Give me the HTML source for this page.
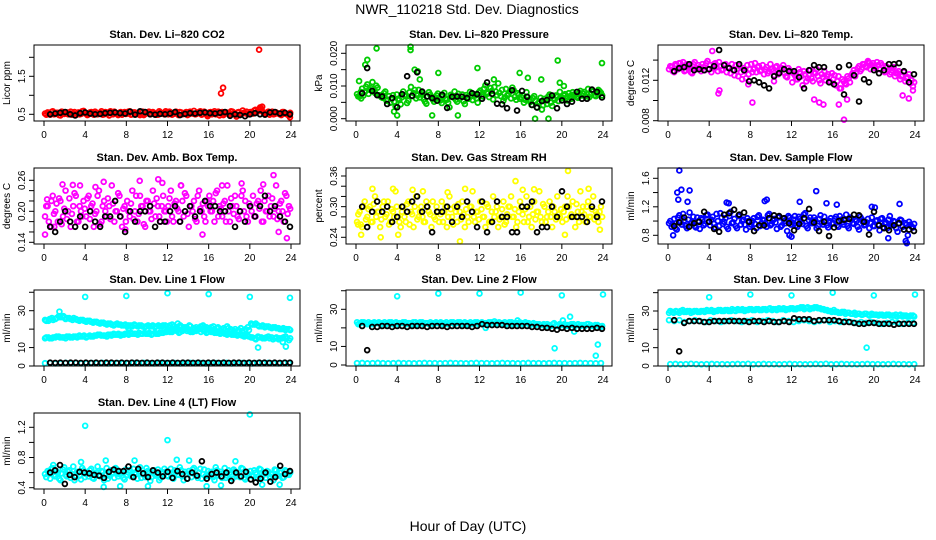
<!DOCTYPE html>
<html><head><meta charset="utf-8"><style>
body{margin:0;background:#fff}
svg{display:block;font-family:"Liberation Sans",Arial,sans-serif}
</style></head><body>
<svg id="chart" width="936" height="540" viewBox="0 0 936 540">
<text x="467" y="14" font-size="14" text-anchor="middle">NWR_110218  Std. Dev. Diagnostics</text>
<text x="468" y="531" font-size="14" text-anchor="middle">Hour of Day (UTC)</text>
</svg>
<script>
const xTicks=[0,4,8,12,16,20,24];
// Panel 1 CO2
const co2Color=[0.52,0.55,0.49,0.58,0.51,0.54,0.47,0.56,0.53,0.5,0.57,0.52,0.48,0.55,0.51,0.59,0.53,0.5,0.56,0.49,0.54,0.52,0.58,0.5,0.55,0.47,0.53,0.57,0.51,0.54,0.49,0.56,0.52,0.58,0.5,0.55,0.53,0.48,0.57,0.51,0.54,0.5,0.56,0.52,0.49,0.55,0.53,0.58,0.5,0.54,0.51,0.57,0.48,0.55,0.52,0.56,0.5,0.53,0.59,0.51,0.54,0.49,0.57,0.52,0.55,0.5,0.58,0.53,0.47,0.56,0.52,0.54,0.5,0.57,0.51,0.55,0.49,0.6,0.53,0.5,0.56,0.52,0.62,0.58,0.66,0.55,0.51,0.57,0.53,0.5,0.55,0.52,0.48,0.56,0.51,0.47];
const co2Color2=[0.49,0.53,0.56,0.5,0.54,0.48,0.57,0.51,0.55,0.53,0.49,0.56,0.52,0.5,0.58,0.53,0.48,0.55,0.51,0.57,0.5,0.54,0.49,0.56,0.52,0.58,0.5,0.54,0.48,0.56,0.53,0.51,0.57,0.49,0.55,0.52,0.5,0.56,0.48,0.54,0.57,0.51,0.53,0.49,0.58,0.52,0.5,0.55,0.57,0.49,0.53,0.51,0.56,0.5,0.54,0.48,0.57,0.52,0.5,0.55,0.58,0.51,0.53,0.49,0.56,0.54,0.5,0.57,0.52,0.48,0.55,0.51,0.58,0.53,0.49,0.56,0.52,0.54,0.57,0.5,0.53,0.6,0.56,0.63,0.59,0.52,0.55,0.49,0.57,0.51,0.53,0.5,0.56,0.52,0.49,0.54];
const co2Out=[[17.2,1.05],[17.4,1.2],[20.9,2.2],[21.0,0.68],[21.2,0.7],[15.9,0.45],[18.7,0.44],[23.9,0.42]];
const co2Black=[0.5,0.52,0.54,0.56,0.5,0.47,0.53,0.55,0.52,0.5,0.51,0.53,0.54,0.55,0.53,0.52,0.57,0.49,0.58,0.56,0.5,0.49,0.51,0.5,0.52,0.56,0.48,0.51,0.53,0.52,0.54,0.55,0.53,0.52,0.54,0.56,0.46,0.5,0.48,0.45,0.5,0.53,0.5,0.49,0.55,0.56,0.52,0.54,0.5];
// Panel 2 Pressure
const presColor=[.0075,.0068,.0092,.0081,.0105,.0088,.0112,.0079,.0095,.0071,.0064,.0083,.0058,.0049,.0072,.0038,.0061,.0044,.0083,.0069,.0055,.0097,.0078,.0062,.0088,.0074,.0059,.0046,.0081,.0067,.0052,.0071,.0064,.0048,.0079,.0058,.0035,.0069,.0083,.0052,.0061,.0074,.0045,.0066,.0082,.0057,.0071,.0049,.0086,.0068,.0102,.0077,.0094,.0059,.0083,.0108,.0069,.0055,.0091,.0076,.0062,.0087,.0058,.0073,.0066,.0049,.0081,.0058,.0042,.0069,.0035,.0052,.0028,.0061,.0045,.0074,.0039,.0058,.0067,.0082,.0063,.0075,.0056,.0069,.0081,.0072,.0064,.0085,.0077,.0068,.0091,.0074,.0083,.0069,.0088,.0079];
const presColor2=[.0068,.0082,.0071,.0098,.0076,.0093,.0084,.0101,.0072,.0066,.0078,.0055,.0069,.0061,.0052,.0074,.0057,.0066,.0072,.0048,.0081,.0069,.0088,.0071,.0065,.0079,.0052,.0068,.0074,.0059,.0063,.0077,.0056,.0071,.0062,.0049,.0073,.0065,.0058,.0076,.0068,.0053,.0072,.0061,.0069,.0075,.0062,.0081,.0074,.0092,.0081,.0066,.0085,.0097,.0072,.0079,.0088,.0064,.0071,.0083,.0095,.0067,.0078,.0061,.0072,.0058,.0066,.0051,.0063,.0055,.0047,.0064,.0041,.0056,.0068,.0049,.0062,.0071,.0054,.0066,.0071,.0064,.0078,.0061,.0074,.0067,.0079,.0071,.0082,.0075,.0066,.0087,.0072,.0078,.0084,.0071];
const presOut=[[0.3,.0115],[0.9,.0165],[1.1,.018],[2,.0215],[5.3,.022],[5.3,.021],[5.7,.015],[6,.0145],[8,.014],[11.8,.0155],[15.9,.014],[16.7,.0125],[18,.012],[19.6,.0178],[23.9,.017],[7.4,.001],[17.4,.0],[18.7,.0],[4,.001],[9.9,.001],[0.5,.0062],[3.7,.0022],[6.2,.0120],[13.4,.0120],[19.8,.0110],[20.2,.0100]];
const presBlack=[.0078,.0155,.0085,.0072,.0068,.0045,.0063,.0035,.0075,.013,.007,.0142,.0083,.0068,.0063,.0055,.0073,.0033,.0067,.0068,.0067,.0063,.0078,.0075,.0061,.0111,.0076,.0046,.0044,.0032,.0087,.0025,.0085,.0067,.0042,.0034,.0054,.0057,.0071,.0032,.0056,.0045,.0052,.0082,.0061,.0061,.0089,.0082,.0065];
// Panel 3 Li-820 Temp
const tempColor=[.0131,.0133,.0128,.0135,.0137,.0132,.0129,.0136,.0134,.0127,.0138,.0131,.0133,.0136,.0130,.0139,.0135,.0132,.0137,.0129,.0134,.0131,.0136,.0133,.0127,.0130,.0135,.0124,.0128,.0132,.0122,.0126,.0136,.0131,.0128,.0134,.0130,.0126,.0133,.0129,.0131,.0125,.0134,.0128,.0132,.0127,.0123,.0130,.0118,.0125,.0121,.0128,.0115,.0126,.0122,.0130,.0119,.0127,.0124,.0117,.0123,.0120,.0126,.0118,.0121,.0115,.0124,.0112,.0119,.0116,.0122,.0125,.0130,.0128,.0134,.0131,.0136,.0133,.0137,.0135,.0134,.0138,.0131,.0135,.0128,.0133,.0126,.0130,.0124,.0127,.0121,.0125,.0119,.0123,.0117,.0114];
const tempColor2=[.0134,.0129,.0136,.0131,.0133,.0138,.0130,.0134,.0128,.0136,.0132,.0135,.0129,.0133,.0137,.0131,.0128,.0136,.0133,.0138,.0130,.0135,.0128,.0132,.0136,.0125,.0131,.0134,.0121,.0129,.0135,.0131,.0128,.0137,.0133,.0129,.0135,.0131,.0127,.0136,.0129,.0133,.0126,.0131,.0135,.0124,.0132,.0128,.0127,.0121,.0131,.0124,.0129,.0119,.0125,.0122,.0128,.0131,.0120,.0126,.0129,.0124,.0119,.0127,.0125,.0119,.0112,.0121,.0117,.0124,.0118,.0127,.0124,.0132,.0129,.0136,.0134,.0139,.0131,.0137,.0132,.0135,.0137,.0129,.0134,.0130,.0128,.0133,.0127,.0129,.0124,.0128,.0122,.0126,.0120,.0118];
const tempOut=[[4.3,.0149],[4.9,.0107],[5.0,.0110],[7.8,.0116],[8.2,.0098],[10.3,.0119],[14.2,.0101],[14.7,.0098],[15.1,.0096],[16.6,.0096],[17.1,.0081],[17.4,.0101],[19.5,.0138],[22.8,.0105],[23.4,.0102],[23.8,.0110],[1.2,.0137]];
const tempBlack=[.0129,.0132,.0133,.0136,.0130,.0131,.0130,.0131,.0134,.0150,.0135,.0132,.0130,.0136,.0130,.0119,.0120,.0118,.0115,.0112,.0124,.0127,.0131,.0129,.0129,.0123,.0112,.0130,.0135,.0133,.0133,.0118,.0116,.0133,.0106,.0135,.0125,.0099,.0121,.0118,.0130,.0127,.0130,.0136,.0136,.0137,.0129,.0118,.0126];
// Panel 4 Amb Box Temp
const ambColor=[.19,.21,.17,.23,.20,.18,.22,.19,.24,.20,.17,.21,.23,.18,.20,.22,.19,.23,.21,.17,.20,.24,.18,.22,.19,.21,.25,.18,.20,.23,.17,.21,.22,.19,.24,.20,.18,.23,.21,.17,.22,.20,.24,.19,.21,.18,.23,.20,.21,.24,.18,.22,.20,.25,.19,.23,.17,.21,.22,.18,.24,.20,.19,.22,.23,.20,.18,.24,.21,.19,.22,.25,.18,.21,.23,.19,.20,.24,.22,.18,.21,.23,.19,.22,.24,.18,.20,.23,.21,.19,.25,.20,.22,.18,.23,.21];
const ambColor2=[.21,.18,.22,.195,.215,.225,.175,.205,.185,.225,.195,.235,.18,.21,.19,.205,.225,.185,.215,.195,.23,.175,.21,.2,.225,.185,.215,.2,.235,.19,.205,.18,.2,.215,.185,.23,.195,.21,.175,.22,.2,.185,.215,.225,.19,.21,.2,.18,.225,.19,.215,.205,.18,.22,.235,.195,.21,.2,.185,.23,.205,.215,.18,.21,.2,.22,.235,.19,.205,.215,.18,.2,.225,.195,.21,.185,.23,.2,.19,.215,.2,.19,.215,.205,.18,.22,.2,.19,.225,.205,.185,.215,.2,.235,.195,.205];
const ambOut=[[0.1,.155],[0.3,.223],[1.8,.252],[2.8,.251],[3.5,.25],[5,.247],[5.8,.257],[7.9,.165],[9.3,.259],[11.1,.262],[11.5,.255],[13.3,.25],[15.4,.155],[17.3,.25],[19.2,.254],[21.3,.252],[22.3,.27],[22.8,.16],[23.6,.148],[0.7,.17],[1,.17]];
const ambBlack=[.17,.16,.18,.20,.18,.17,.19,.17,.20,.18,.17,.19,.19,.22,.19,.16,.20,.18,.20,.20,.21,.17,.18,.18,.20,.21,.18,.20,.21,.19,.20,.22,.21,.21,.20,.20,.21,.17,.20,.18,.21,.19,.21,.23,.20,.21,.19,.18,.17];
// Panel 5 RH
const rhColor=[.27,.29,.26,.31,.28,.30,.27,.32,.29,.26,.30,.28,.31,.27,.29,.33,.28,.26,.30,.27,.31,.29,.26,.32,.28,.30,.27,.31,.29,.26,.28,.30,.27,.31,.29,.26,.32,.28,.30,.27,.29,.31,.26,.28,.30,.33,.27,.29,.31,.28,.26,.30,.27,.32,.29,.26,.28,.31,.27,.30,.32,.28,.26,.29,.30,.27,.32,.28,.26,.31,.29,.33,.27,.30,.28,.31,.26,.29,.32,.28,.27,.30,.32,.28,.31,.26,.29,.33,.30,.27,.31,.28,.32,.29,.27,.30];
const rhColor2=[.285,.265,.3,.275,.295,.27,.305,.28,.29,.275,.31,.285,.265,.295,.28,.3,.27,.29,.28,.305,.265,.285,.3,.275,.29,.28,.27,.3,.285,.31,.275,.29,.285,.27,.3,.28,.295,.265,.29,.305,.275,.285,.295,.27,.3,.28,.29,.275,.295,.28,.305,.27,.29,.28,.3,.275,.295,.265,.285,.3,.28,.295,.27,.31,.285,.295,.27,.3,.285,.275,.29,.28,.305,.27,.29,.28,.3,.275,.285,.295,.29,.275,.3,.285,.28,.305,.27,.29,.285,.3,.28,.295,.275,.285,.29,.28];
const rhOut=[[0.2,.265],[0.5,.245],[1.6,.335],[2.4,.24],[3.6,.335],[4.1,.245],[5.5,.333],[6.5,.33],[8.9,.328],[10.1,.232],[10.6,.335],[15.5,.35],[16.2,.333],[17.3,.334],[20.6,.37],[20.3,.245],[22.6,.335],[23.7,.255]];
const rhBlack=[.30,.26,.29,.31,.29,.30,.27,.28,.30,.29,.31,.32,.29,.30,.25,.29,.29,.30,.27,.30,.28,.31,.29,.26,.31,.25,.27,.31,.28,.28,.25,.25,.30,.30,.31,.25,.26,.26,.30,.28,.33,.30,.28,.28,.28,.27,.30,.28,.31];
// Panel 6 Sample Flow
const sfColor=[.97,.92,1.03,.88,1.08,.95,1.01,.90,1.12,.98,.93,1.05,.89,1.02,.96,1.09,.94,1.06,.91,1.00,1.11,.96,1.04,.89,1.13,.98,.93,1.07,.95,1.02,.88,1.00,.95,1.04,.90,1.08,.97,1.01,.92,1.10,.96,1.03,.89,1.06,.94,1.00,.86,1.05,.98,1.07,.92,1.03,.96,1.11,.90,1.05,.97,1.01,.93,1.08,.95,1.00,.91,1.04,.97,1.06,.92,1.02,.95,1.09,.90,1.04,.96,1.00,.88,1.03,.94,.98,.90,1.05,.93,1.01,.87,1.04,.96,.90,1.07,.94,.99,.85,1.02,.92,.97,.80,.95,.91];
const sfColor2=[1.0,.95,.9,1.05,.98,1.1,.93,1.02,.97,1.06,.91,1.0,1.04,.94,1.08,.99,1.02,.96,1.1,.93,1.05,.99,.92,1.07,.97,1.03,.9,1.09,1.0,.95,1.04,.92,1.0,.96,1.06,.93,1.02,.97,1.08,.94,1.01,.98,1.05,.92,1.03,.97,1.07,.95,1.02,.94,1.06,.99,1.09,.93,1.01,.97,1.05,.9,1.03,.98,1.06,.94,1.0,.96,1.03,.94,1.07,.98,1.01,.93,1.05,.97,1.02,.92,1.06,.99,.95,1.03,.97,.93,1.0,.95,1.03,.91,.98,1.02,.94,1.0,.9,.97,1.01,.88,.95,.99,.92,.96];
const sfOut=[[1.1,1.71],[0.9,1.4],[1.0,1.3],[1.3,1.44],[2.1,1.43],[1.9,1.27],[5.7,1.26],[5.9,1.25],[9.6,1.3],[9.4,1.28],[12.8,1.27],[14.4,1.42],[15.4,1.25],[16.4,1.23],[11.8,.8],[12,.78],[21.4,.76],[23.1,.72],[23.2,.69],[22.5,1.24],[0.5,.8],[19.8,1.2],[20.1,1.19]];
const sfBlack=[.93,.98,1.05,.92,.97,.99,1.13,.99,.89,.85,1.09,1.11,1.16,1.09,1.12,.99,.86,.94,.94,1.04,1.08,1.07,1.04,.97,.87,.96,1.04,1.17,.98,.86,.99,.79,.91,1.00,1.02,1.03,1.09,1.08,.99,.81,1.13,.94,.90,.87,.94,.97,.88,.88,.86];
// Panel 7 Line 1 Flow
const l1Upper=[25,24.5,26,25.5,27,26.5,25.5,26,25,25.5,24.5,25,24,24.5,23.5,24,23,23.5,22.5,23,22,23,22.5,22,21.5,22,22.5,21.5,22,21,22,21.5,21,22,21.5,22,21,22.5,20.5,21.5,20,21,22,19.5,21,20.5,22,21,20,21.5,20.5,19,20.5,21.5,20,19,18.5,20.5,19,21,23,22.5,22,21.5,21,21.5,20.5,21,20.5,20,19.5,20];
const l1Upper2=[24.5,25.5,25,26,26.5,27,26,25.5,26,25,25,24.5,24.5,24,24,23.5,23.5,23,23,22.5,22.5,22.5,22,22.5,22,21.5,22,22,21.5,21.5,21.5,22,21.5,21.5,22,21.5,22,21.5,21,22,21,20.5,21.5,20.5,20,21.5,21,20.5,21,20,21,20,19.5,20.5,19.5,20,19.5,19,20,19.5,22.5,23,21.5,22,21.5,21,21,20.5,20,20.5,20,19.5];
const l1Lower=[15,15.5,15,15.5,16,15.5,15,16,15.5,16,16.5,16,15.5,16.5,16,16.5,17,16.5,16,17,17.5,17,16.5,17,17.5,18,17.5,17,17.5,18,17.5,17,18,17.5,18,18.5,19,18.5,19.5,18,19,20,19.5,18.5,19,20,19.5,18,19,18.5,18,17.5,18,17,17.5,17,16.5,17,16,16.5,15.5,15,16,15.5,15,16,15.5,15,14.5,15,16,14];
const l1Lower2=[15.5,15,15.5,16,15.5,15.5,16,15.5,16,15.5,16,16.5,16,16,16.5,17,16.5,16.5,17,16.5,17,17.5,17,17.5,17,17.5,17.5,18,17.5,17.5,18,17.5,17.5,18,18,18.5,18.5,19.5,19,18.5,19.5,19,18.5,19.5,19.5,18.5,19,18.5,18.5,18,18.5,18,17.5,17.5,17,17.5,17,16.5,16.5,16,15.5,14.5,15.5,15,15.5,15,14.5,15.5,15,15.5,15,15];
const l1Zero=[1.5,1.6,1.4,1.5,1.7,1.5,1.6,1.4,1.5,1.6,1.5,1.7,1.4,1.5,1.6,1.5,1.4,1.6,1.5,1.7,1.5,1.4,1.6,1.5,1.5,1.6,1.4,1.5,1.7,1.5,1.6,1.4,1.5,1.6,1.5,1.7,1.4,1.5,1.6,1.5,1.4,1.6,1.5,1.7,1.5,1.4,1.6,1.5];
const l1Out=[[4,37.5],[8,38],[12,39.5],[16,39],[20,37.5],[23.9,37],[8.2,20.5],[20.8,10],[23.5,10.5],[23.2,13],[13,23],[1.5,29.5]];
const l1Black=[1.8,1.7,1.8,1.7,1.8,1.8,1.7,1.8,1.7,1.8,1.7,1.8,1.8,1.7,1.8,1.7,1.8,1.8,1.7,1.8,1.7,1.8,1.8,1.7,1.8,1.7,1.8,1.8,1.7,1.8,1.7,1.8,1.8,1.7,1.8,1.7,1.8,1.8,1.7,1.8,1.7,1.8,1.8,1.7,1.8,1.7,1.8,1.8];
// Panel 8 Line 2 Flow
const l2Band=[23,22.5,23,22,22.5,23,22.5,22,23,22.5,23,22.5,22,22.5,23,22.5,22,23,22.5,23,22.5,22,22.5,23,22.5,22,23,22.5,23,22.5,23,22.5,22,23,22.5,23,22.5,22,22.5,23,23.5,22.5,22,23,22.5,23,22.5,22,22.5,23,22.5,22,21.5,22,21.5,21,21.5,22,21.5,22,21.5,21,21.5,22,21.5,21,21.5,22,21.5,21,21.5,20.5];
const l2Band2=[22,23,22.5,23,22,22.5,23,22.5,22,23,22,23,22.5,23,22,22.5,23,22,23,22,22.5,23,22,22.5,23,22.5,22,23,22,23,22,23,22.5,22,23,22,23,22.5,23,22,22.5,23,22.5,22,23,22,22.5,23,22,22.5,21.5,22.5,22,21.5,22,22,21,22.5,21,21.5,22,21.5,22,21,22,21.5,21,22,21,21.5,21,21];
const l2Zero=[1,1.1,0.9,1,1.1,1,0.9,1,1.1,1,1,0.9,1,1.1,1,1,0.9,1,1.1,1,1,0.9,1,1.1,1,1,0.9,1,1.1,1,1,0.9,1,1.1,1,1,0.9,1,1.1,1,1,0.9,1,1.1,1,1,0.9,1];
const l2Out=[[4,37],[8,38.5],[12,38.5],[16,39],[20,37.5],[24,38],[19.3,9],[23.5,11],[23.3,5],[20.8,26],[20.1,24],[21.2,18],[12.6,20],[15.7,24]];
const l2Black=[21,8,20.5,20.5,21,21,20.5,21,21,20.5,21,21,21,20.5,21,21,21,20.5,21,21,21,21,20.5,21,22,21.5,21.5,21.5,21.5,21,21,21,21,21,20.5,20.5,20,20,19.5,19,20,19.5,20,19.5,19.5,19.5,19.5,20,19.5];
// Panel 9 Line 3 Flow
const l3Upper=[29,29.5,30,29,30.5,29.5,30,29.5,30,29.5,30,30.5,30,29.5,30,30.5,30,30.5,30,30.5,31,30.5,30,30.5,31,30.5,31,30.5,31,31,30.5,31,31.5,31,30.5,31,31.5,31,31.5,32,31.5,31,31.5,32,31.5,31,30.5,30,30.5,29.5,29,29.5,29,28.5,29,28.5,28,28.5,28,28.5,28,27.5,28,27.5,28,27.5,28,27.5,27,27.5,27,27.5];
const l3Upper2=[30,29,29.5,30,29.5,30,29,30,29.5,30,29.5,30,30.5,30,30.5,30,30.5,30,31,30,30.5,31,30.5,31,30.5,31,30.5,31,30.5,31.5,31,30.5,31,31.5,31,31.5,31,31.5,32,31,32,31.5,32,31.5,31,30.5,30,29.5,29.5,29,29.5,28.5,29,28.5,28,28.5,28,28.5,27.5,28,28,28,27.5,28,27.5,27.5,27,28,27.5,27,27.5,27];
const l3Lower=[25,24.5,25,24,24.5,25,24.5,24,25,24.5,24,24.5,25,24.5,24,24.5,25,24,24.5,25,24.5,24,25,24.5,24,24.5,25,24.5,24,24.5,25,24,24.5,24,24.5,24,23.5,24,23.5,24,23.5,23,23.5,24,23.5,23,23.5,23.5];
const l3Zero=[1,1.1,0.9,1,1.2,1,0.9,1,1.1,1,1,0.9,1,1.1,1,1.2,0.9,1,1.1,1,1,0.9,1,1.1,1,1,0.9,1,1.1,1,1.2,0.9,1,1.1,1,1,0.9,1,1.1,1,1,0.9,1,1.1,1,1,0.9,1];
const l3Out=[[4,37.5],[8,39],[12,38.5],[16,40],[20,38.5],[24,39],[19.3,10]];
const l3Black=[25,8,23.5,24.5,24.5,24.5,24,24,24.5,24.5,24.5,24.5,24.5,24.5,24.5,24,24.5,24.5,24,24.5,24,24,24.5,24,26,25.5,25.5,25.5,24.5,25,25,25,25,24.5,24,24,23.5,23,23,23.5,23.5,23,23,23,22.5,23,23,23,23];
// Panel 10 Line 4 (LT) Flow
const l4Color=[.58,.62,.52,.66,.55,.6,.5,.64,.57,.61,.53,.68,.56,.6,.51,.63,.58,.55,.65,.52,.6,.57,.62,.5,.66,.56,.59,.53,.64,.58,.61,.51,.57,.63,.55,.6,.52,.67,.58,.54,.62,.49,.6,.56,.64,.53,.59,.61,.55,.65,.52,.6,.57,.63,.5,.58,.62,.54,.66,.56,.6,.52,.64,.57,.55,.61,.5,.63,.58,.53,.66,.56,.6,.52,.62,.57,.54,.65,.51,.59,.62,.55,.6,.52,.64,.57,.53,.61,.58,.5,.63,.56,.6,.54,.62,.57];
const l4Color2=[.54,.6,.65,.57,.62,.52,.59,.67,.55,.63,.58,.5,.61,.56,.66,.54,.6,.63,.53,.58,.68,.55,.61,.57,.52,.63,.6,.66,.55,.59,.53,.64,.6,.55,.65,.58,.62,.53,.57,.66,.59,.54,.63,.58,.5,.61,.65,.56,.6,.54,.63,.57,.67,.55,.61,.52,.59,.64,.57,.53,.65,.58,.55,.62,.6,.54,.67,.56,.61,.59,.53,.63,.57,.64,.55,.6,.66,.53,.61,.57,.56,.63,.58,.65,.54,.6,.62,.55,.58,.64,.56,.6,.53,.63,.58,.6];
const l4Out=[[4,1.22],[12,1.03],[20,1.37],[3.6,.74],[5.8,.41],[7.4,.42],[10.1,.42],[14.1,.76],[15.8,.42],[17.2,.43],[18.6,.75],[22.9,.44],[21.2,.44],[6,.76],[8.8,.76],[12.9,.77],[0.9,.7]];
const l4Black=[.6,.63,.7,.45,.57,.54,.61,.6,.59,.57,.56,.53,.61,.64,.62,.62,.68,.54,.65,.59,.54,.63,.6,.55,.61,.53,.62,.58,.52,.6,.56,.75,.52,.58,.6,.55,.6,.49,.6,.55,.61,.51,.47,.52,.6,.48,.54,.69,.58,.62];

const panels=[
 {name:'co2',title:'Stan. Dev. Li\u2013820 CO2',ylab:'Licor ppm',col:0,row:0,color:'#ff0000',ref:[[0.5,114.3],[1.5,76.3]],ticks:[0.5,1,1.5,2],tl:['0.5','','1.5',''],series:[co2Color,co2Color2],out:co2Out,black:co2Black},
 {name:'pressure',title:'Stan. Dev. Li\u2013820 Pressure',ylab:'kPa',col:1,row:0,color:'#00cc00',ref:[[0,118.7],[0.02,53.3]],ticks:[0,.005,.01,.015,.02],tl:['0.000','','0.010','','0.020'],series:[presColor,presColor2],out:presOut,black:presBlack},
 {name:'li820-temp',title:'Stan. Dev. Li\u2013820 Temp.',ylab:'degrees C',col:2,row:0,color:'#ff00ff',ref:[[0.008,120.7],[0.012,80.3]],ticks:[.008,.010,.012,.014],tl:['0.008','','0.012',''],series:[tempColor,tempColor2],out:tempOut,black:tempBlack},
 {name:'amb-box-temp',title:'Stan. Dev. Amb. Box Temp.',ylab:'degrees C',col:0,row:1,color:'#ff00ff',ref:[[.14,242.3],[.26,180.3]],ticks:[.14,.16,.18,.20,.22,.24,.26],tl:['0.14','','','0.20','','','0.26'],series:[ambColor,ambColor2],out:ambOut,black:ambBlack},
 {name:'gas-stream-rh',title:'Stan. Dev. Gas Stream RH',ylab:'percent',col:1,row:1,color:'#ffff00',ref:[[.24,237.3],[.36,176]],ticks:[.24,.26,.28,.30,.32,.34,.36],tl:['0.24','','','0.30','','','0.36'],series:[rhColor,rhColor2],out:rhOut,black:rhBlack},
 {name:'sample-flow',title:'Stan. Dev. Sample Flow',ylab:'ml/min',col:2,row:1,color:'#0000ff',ref:[[.8,235.3],[1.6,178.3]],ticks:[.8,1.0,1.2,1.4,1.6],tl:['0.8','','1.2','','1.6'],series:[sfColor,sfColor2],out:sfOut,black:sfBlack},
 {name:'line1-flow',title:'Stan. Dev. Line 1 Flow',ylab:'ml/min',col:0,row:2,color:'#00ffff',ref:[[0,366],[30,310.7]],ticks:[0,10,20,30,40],tl:['0','10','','30',''],series:[l1Upper,l1Upper2,l1Lower,l1Lower2,l1Zero],out:l1Out,black:l1Black},
 {name:'line2-flow',title:'Stan. Dev. Line 2 Flow',ylab:'ml/min',col:1,row:2,color:'#00ffff',ref:[[0,365],[30,309.3]],ticks:[0,10,20,30,40],tl:['0','10','','30',''],series:[l2Band,l2Band2,l2Zero],out:l2Out,black:l2Black},
 {name:'line3-flow',title:'Stan. Dev. Line 3 Flow',ylab:'ml/min',col:2,row:2,color:'#00ffff',ref:[[0,366],[30,311]],ticks:[0,10,20,30,40],tl:['0','10','','30',''],series:[l3Upper,l3Upper2,l3Lower,l3Zero],out:l3Out,black:l3Black},
 {name:'line4-flow',title:'Stan. Dev. Line 4 (LT) Flow',ylab:'ml/min',col:0,row:3,color:'#00ffff',ref:[[.4,487.7],[1.2,427.3]],ticks:[.4,.6,.8,1.0,1.2],tl:['0.4','','0.8','','1.2'],series:[l4Color,l4Color2],out:l4Out,black:l4Black}
];
const NS='http://www.w3.org/2000/svg';
const svg=document.getElementById('chart');
const colLeft=[34,346,658], rowTop=[45,168,290,413], W=266, H=76;
function mk(tag,attrs,parent){const e=document.createElementNS(NS,tag);for(const k in attrs)e.setAttribute(k,attrs[k]);parent.appendChild(e);return e;}
panels.forEach(p=>{
  const L=colLeft[p.col], T=rowTop[p.row];
  const g=mk('g',{},svg);
  
  
  const xs=v=>L+10+v*(247/24);
  const [[v0,y0],[v1,y1]]=p.ref;
  const ys=v=>y0+(v-v0)*(y1-y0)/(v1-v0);
  const t=mk('text',{x:L+W/2,y:T-7,'font-size':11,'font-weight':'bold','text-anchor':'middle'},g);
  t.textContent=p.title;
  
  
  xTicks.forEach(v=>{
    const tk=mk('line',{x1:xs(v),x2:xs(v),y1:T+H,y2:T+H+5,stroke:'#000'},g);
    
    
    const lb=mk('text',{x:xs(v),y:T+H+17,'font-size':10,'text-anchor':'middle'},g);
    lb.textContent=v;
    
    
  });
  p.ticks.forEach((v,i)=>{
    const y=ys(v);
    const tk=mk('line',{x1:L-5,x2:L,y1:y,y2:y,stroke:'#000'},g);
    
    
    if(p.tl[i]){
      const lb=mk('text',{x:0,y:0,'font-size':10,'text-anchor':'middle',transform:`translate(${L-9},${y}) rotate(-90)`},g);
      lb.textContent=p.tl[i];
      
      
    }
  });
  const yl=mk('text',{x:0,y:0,'font-size':10,'text-anchor':'middle',transform:`translate(${L-24},${T+H/2}) rotate(-90)`},g);
  yl.textContent=p.ylab;
  
  
  const pts=mk('g',{fill:'none','stroke-width':1.8},g);
  
  
  function dot(x,y,c){
    const e=mk('circle',{cx:xs(x),cy:ys(y),r:2.4,stroke:c},pts);
    
    
  }
  p.series.forEach((s,k)=>{const off=(k%2)*0.12;s.forEach((v,i)=>dot(0.1+off+i*23.7/(s.length-1),v,p.color));});
  p.out.forEach(o=>dot(o[0],o[1],p.color));
  p.black.forEach((v,i)=>dot(0.6+i*23.3/(p.black.length-1),v,'#000'));
  const box=mk('rect',{x:L,y:T,width:W,height:H,fill:'none',stroke:'#000','stroke-width':1},g);
  
  
});
</script>
</body></html>
